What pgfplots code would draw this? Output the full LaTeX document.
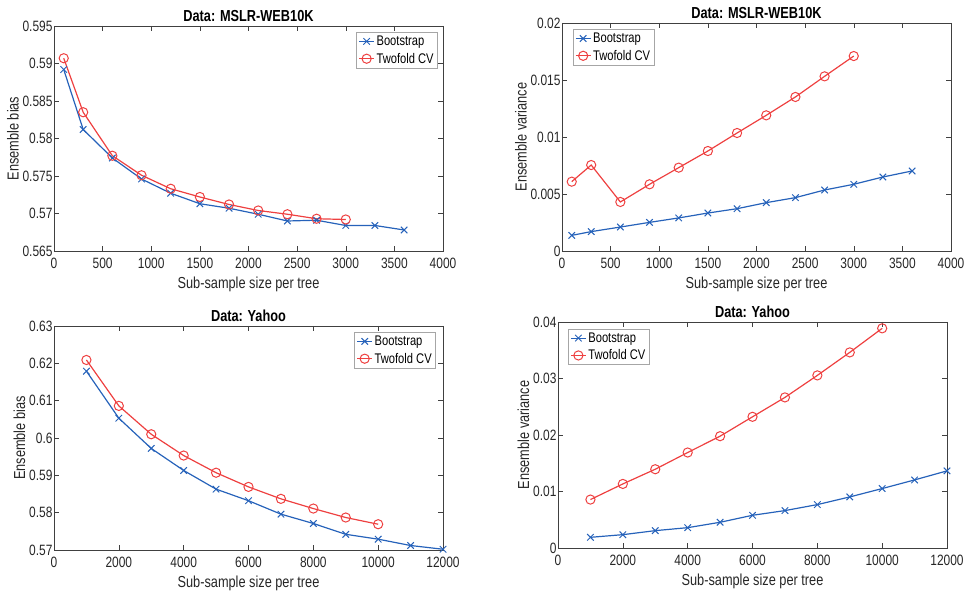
\documentclass[border=0pt]{standalone}
\usepackage{fontspec}
\setmainfont[FakeStretch=0.8]{Liberation Sans}
\usepackage{pgfplots}
\pgfplotsset{compat=1.18}

\definecolor{mblue}{RGB}{38,98,186}
\definecolor{mred}{RGB}{238,64,64}
\definecolor{maxis}{RGB}{64,64,64}

\pgfplotsset{
  mstyle/.style={
    scale only axis,
    width=389bp,
    axis line style={maxis, line width=0.6pt},
    tick style={maxis, line width=0.5pt},
    tick align=inside,
    major tick length=5bp,
    ticklabel style={font=\fontsize{15}{15}\selectfont, color=black!85},
    xticklabel style={yshift=-4bp},
    yticklabel style={xshift=2bp},
    label style={font=\fontsize{16}{16}\selectfont, color=black!85},
    title style={font=\bfseries\fontsize{16}{16}\selectfont, yshift=-5bp},
    /pgf/number format/assume math mode=true,
    /pgf/number format/set thousands separator={},
    scaled ticks=false,
    xlabel={Sub-sample size per tree},
    xlabel style={yshift=-1bp},
    legend style={font=\fontsize{14}{14}\selectfont, draw=black!35, line width=0.6pt,
      inner xsep=2bp, inner ysep=1.5bp, row sep=2bp, cells={anchor=west}},
    legend image code/.code={
      \draw[mark repeat=2, mark phase=2, #1] plot coordinates {(0cm,0cm) (0.26cm,0cm) (0.52cm,0cm)};},
  },
  boot/.style={color=mblue, line width=1.2pt, mark=x, mark size=4.6bp, mark options={line width=1pt}},
  twof/.style={color=mred, line width=1.2pt, mark=o, mark size=4.6bp, mark options={line width=1pt}},
}

\begin{document}
\begin{tikzpicture}[x=1bp, y=1bp]
\path[use as bounding box] (0,0) rectangle (968,600);

% top left
\begin{axis}[mstyle, at={(54bp,349bp)}, anchor=south west, height=225bp,
  title={Data: MSLR-WEB10K},
  xmin=0, xmax=4000, ymin=0.565, ymax=0.595,
  xtick={0,500,...,4000},
  ytick={0.565,0.57,0.575,0.58,0.585,0.59,0.595},
  yticklabels={0.565,0.57,0.575,0.58,0.585,0.59,0.595},
  ylabel={Ensemble bias}, ylabel style={yshift=-3bp},
  legend style={at={(0.987,0.973)}, anchor=north east}]
\addplot[boot] coordinates {
(100,0.5892) (300,0.5812) (600,0.5774) (900,0.5746) (1200,0.5727) (1500,0.5713)
(1800,0.5707) (2100,0.5699) (2400,0.5690) (2700,0.5691) (3000,0.5684) (3300,0.5684) (3600,0.5678)};
\addplot[twof] coordinates {
(100,0.5907) (300,0.5835) (600,0.5777) (900,0.5751) (1200,0.5733) (1500,0.5722)
(1800,0.5712) (2100,0.5704) (2400,0.5699) (2700,0.5693) (3000,0.5692)};
\legend{Bootstrap, Twofold CV}
\end{axis}

% top right
\begin{axis}[mstyle, at={(562bp,349bp)}, anchor=south west, height=228bp,
  title={Data: MSLR-WEB10K},
  xmin=0, xmax=4000, ymin=0, ymax=0.02,
  xtick={0,500,...,4000},
  ytick={0,0.005,0.01,0.015,0.02},
  yticklabels={0,0.005,0.01,0.015,0.02},
  ylabel={Ensemble variance}, ylabel style={yshift=-3bp},
  legend style={at={(0.028,0.973)}, anchor=north west}]
\addplot[boot] coordinates {
(100,0.00137) (300,0.00170) (600,0.00210) (900,0.00251) (1200,0.00290) (1500,0.00333)
(1800,0.00371) (2100,0.00424) (2400,0.00468) (2700,0.00535) (3000,0.00585) (3300,0.00649) (3600,0.00702)};
\addplot[twof] coordinates {
(100,0.00608) (300,0.00754) (600,0.00430) (900,0.00585) (1200,0.00731) (1500,0.00877)
(1800,0.01035) (2100,0.01190) (2400,0.01351) (2700,0.01532) (3000,0.01710)};
\legend{Bootstrap, Twofold CV}
\end{axis}

% bottom left
\begin{axis}[mstyle, at={(54bp,50bp)}, anchor=south west, height=224bp,
  title={Data: Yahoo},
  xmin=0, xmax=12000, ymin=0.57, ymax=0.63,
  xtick={0,2000,...,12000},
  ytick={0.57,0.58,0.59,0.6,0.61,0.62,0.63},
  yticklabels={0.57,0.58,0.59,0.6,0.61,0.62,0.63},
  ylabel={Ensemble bias}, ylabel style={yshift=-3bp},
  legend style={at={(0.982,0.973)}, anchor=north east}]
\addplot[boot] coordinates {
(1000,0.6179) (2000,0.6053) (3000,0.5972) (4000,0.5913) (5000,0.5863) (6000,0.5832)
(7000,0.5796) (8000,0.5771) (9000,0.5742) (10000,0.5729) (11000,0.5712) (12000,0.5702)};
\addplot[twof] coordinates {
(1000,0.6209) (2000,0.6086) (3000,0.6010) (4000,0.5953) (5000,0.5907) (6000,0.5869)
(7000,0.5837) (8000,0.5811) (9000,0.5787) (10000,0.5769)};
\legend{Bootstrap, Twofold CV}
\end{axis}

% bottom right
\begin{axis}[mstyle, at={(558bp,52bp)}, anchor=south west, height=226bp,
  title={Data: Yahoo},
  xmin=0, xmax=12000, ymin=0, ymax=0.04,
  xtick={0,2000,...,12000},
  ytick={0,0.01,0.02,0.03,0.04},
  yticklabels={0,0.01,0.02,0.03,0.04},
  ylabel={Ensemble variance}, ylabel style={yshift=-3bp},
  legend style={at={(0.026,0.97)}, anchor=north west}]
\addplot[boot] coordinates {
(1000,0.00189) (2000,0.00236) (3000,0.00307) (4000,0.00360) (5000,0.00455) (6000,0.00579)
(7000,0.00662) (8000,0.00768) (9000,0.00904) (10000,0.01052) (11000,0.01205) (12000,0.01365)};
\addplot[twof] coordinates {
(1000,0.00857) (2000,0.01134) (3000,0.01394) (4000,0.01690) (5000,0.01979) (6000,0.02322)
(7000,0.02665) (8000,0.03055) (9000,0.03462) (10000,0.03888)};
\legend{Bootstrap, Twofold CV}
\end{axis}
\end{tikzpicture}
\end{document}
